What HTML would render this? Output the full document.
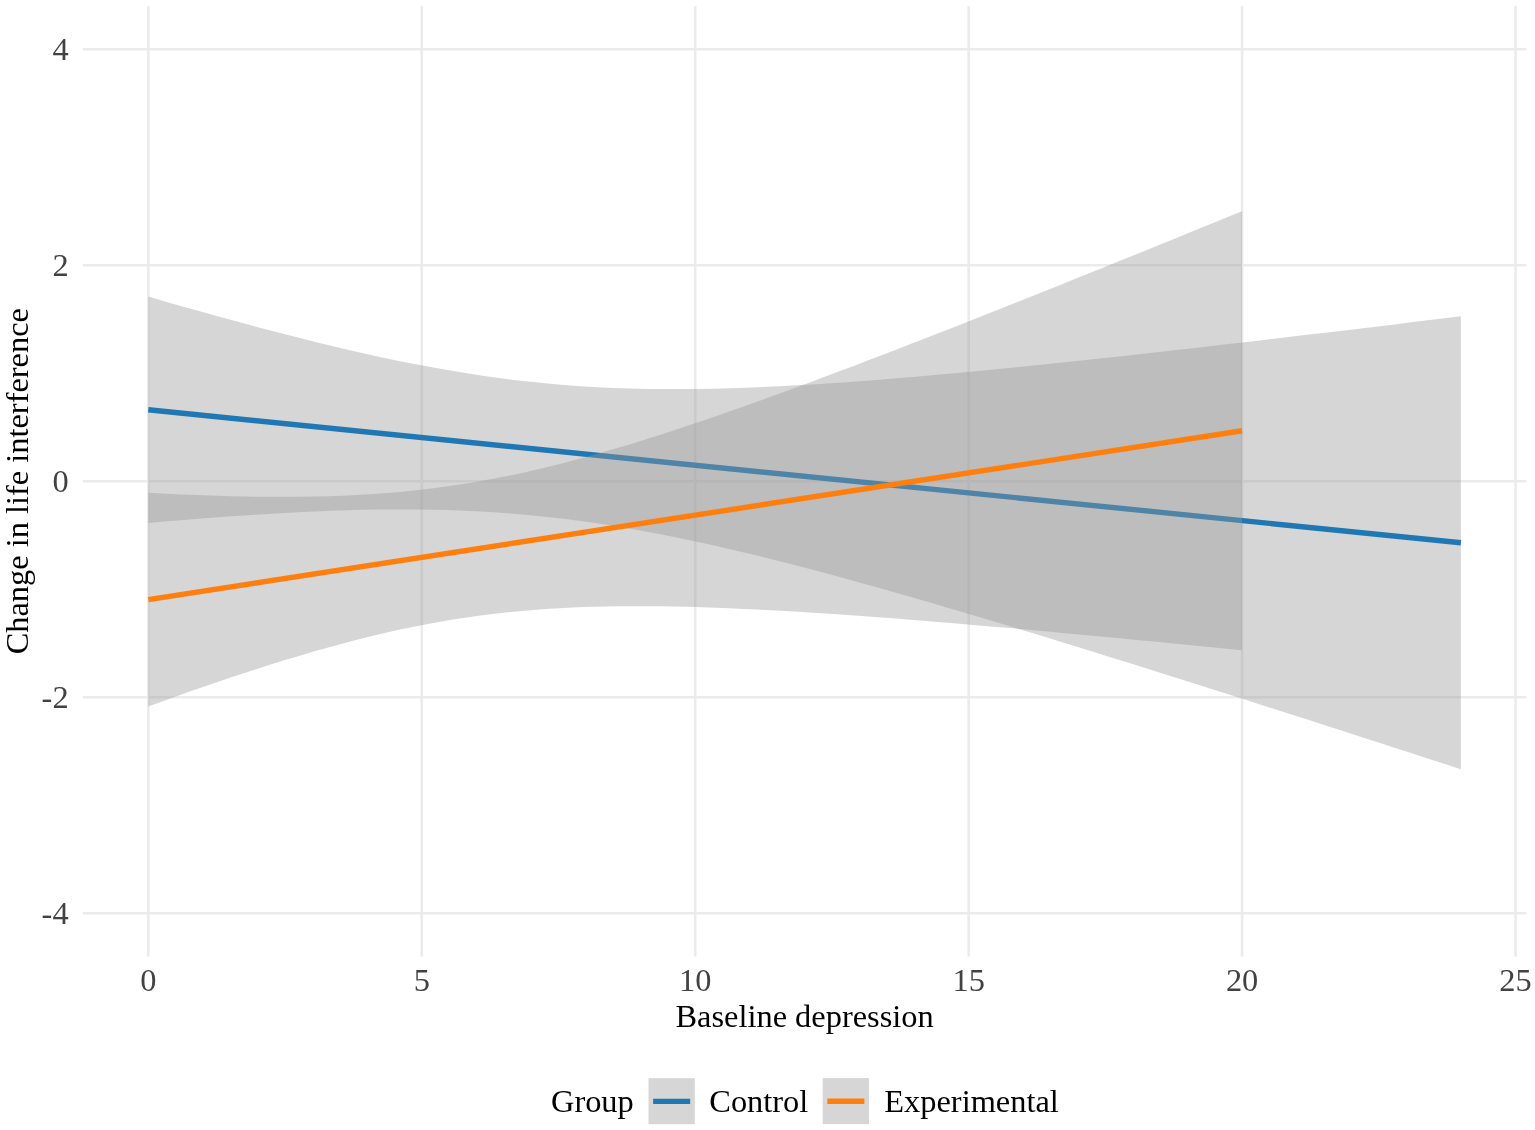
<!DOCTYPE html>
<html><head><meta charset="utf-8"><title>Change in life interference by baseline depression</title>
<style>
html,body{margin:0;padding:0;background:#fff;}
body{width:1535px;height:1130px;overflow:hidden;}
svg{display:block;}
svg text{font-family:"Liberation Serif","Times New Roman",serif;font-size:32.4px;}
</style></head>
<body>
<svg width="1535" height="1130" viewBox="0 0 1535 1130">
<rect x="0" y="0" width="1535" height="1130" fill="#fff"/>
<line x1="82.67" y1="49.20" x2="1526.49" y2="49.20" stroke="#EBEBEB" stroke-width="2.6"/>
<line x1="82.67" y1="265.20" x2="1526.49" y2="265.20" stroke="#EBEBEB" stroke-width="2.6"/>
<line x1="82.67" y1="481.20" x2="1526.49" y2="481.20" stroke="#EBEBEB" stroke-width="2.6"/>
<line x1="82.67" y1="697.20" x2="1526.49" y2="697.20" stroke="#EBEBEB" stroke-width="2.6"/>
<line x1="82.67" y1="913.20" x2="1526.49" y2="913.20" stroke="#EBEBEB" stroke-width="2.6"/>
<line x1="148.30" y1="6.00" x2="148.30" y2="956.40" stroke="#EBEBEB" stroke-width="2.6"/>
<line x1="421.75" y1="6.00" x2="421.75" y2="956.40" stroke="#EBEBEB" stroke-width="2.6"/>
<line x1="695.20" y1="6.00" x2="695.20" y2="956.40" stroke="#EBEBEB" stroke-width="2.6"/>
<line x1="968.65" y1="6.00" x2="968.65" y2="956.40" stroke="#EBEBEB" stroke-width="2.6"/>
<line x1="1242.10" y1="6.00" x2="1242.10" y2="956.40" stroke="#EBEBEB" stroke-width="2.6"/>
<line x1="1515.55" y1="6.00" x2="1515.55" y2="956.40" stroke="#EBEBEB" stroke-width="2.6"/>
<path d="M148.30,296.60 L164.91,301.41 L181.53,306.17 L198.14,310.87 L214.76,315.51 L231.37,320.09 L247.99,324.59 L264.60,329.02 L281.22,333.36 L297.83,337.61 L314.45,341.76 L331.06,345.79 L347.68,349.71 L364.29,353.49 L380.91,357.14 L397.52,360.63 L414.13,363.96 L430.75,367.11 L447.36,370.07 L463.98,372.84 L480.59,375.41 L497.21,377.75 L513.82,379.88 L530.44,381.78 L547.05,383.46 L563.67,384.91 L580.28,386.13 L596.90,387.13 L613.51,387.92 L630.13,388.51 L646.74,388.89 L663.36,389.10 L679.97,389.12 L696.58,388.99 L713.20,388.70 L729.81,388.27 L746.43,387.71 L763.04,387.03 L779.66,386.25 L796.27,385.36 L812.89,384.38 L829.50,383.31 L846.12,382.17 L862.73,380.95 L879.35,379.67 L895.96,378.33 L912.58,376.94 L929.19,375.49 L945.80,374.00 L962.42,372.46 L979.03,370.89 L995.65,369.28 L1012.26,367.64 L1028.88,365.96 L1045.49,364.26 L1062.11,362.53 L1078.72,360.77 L1095.34,359.00 L1111.95,357.20 L1128.57,355.38 L1145.18,353.54 L1161.80,351.68 L1178.41,349.81 L1195.03,347.93 L1211.64,346.03 L1228.25,344.11 L1244.87,342.19 L1261.48,340.25 L1278.10,338.30 L1294.71,336.34 L1311.33,334.37 L1327.94,332.39 L1344.56,330.40 L1361.17,328.40 L1377.79,326.40 L1394.40,324.38 L1411.02,322.36 L1427.63,320.34 L1444.25,318.31 L1460.86,316.27 L1460.86,769.25 L1444.25,763.85 L1427.63,758.45 L1411.02,753.06 L1394.40,747.67 L1377.79,742.29 L1361.17,736.92 L1344.56,731.56 L1327.94,726.21 L1311.33,720.86 L1294.71,715.52 L1278.10,710.20 L1261.48,704.88 L1244.87,699.58 L1228.25,694.28 L1211.64,689.00 L1195.03,683.74 L1178.41,678.48 L1161.80,673.25 L1145.18,668.02 L1128.57,662.82 L1111.95,657.64 L1095.34,652.47 L1078.72,647.33 L1062.11,642.21 L1045.49,637.11 L1028.88,632.04 L1012.26,627.00 L995.65,621.99 L979.03,617.01 L962.42,612.07 L945.80,607.17 L929.19,602.32 L912.58,597.50 L895.96,592.74 L879.35,588.04 L862.73,583.39 L846.12,578.81 L829.50,574.30 L812.89,569.87 L796.27,565.52 L779.66,561.26 L763.04,557.11 L746.43,553.07 L729.81,549.14 L713.20,545.35 L696.58,541.69 L679.97,538.19 L663.36,534.85 L646.74,531.69 L630.13,528.71 L613.51,525.93 L596.90,523.35 L580.28,520.99 L563.67,518.84 L547.05,516.93 L530.44,515.24 L513.82,513.77 L497.21,512.53 L480.59,511.52 L463.98,510.71 L447.36,510.12 L430.75,509.72 L414.13,509.50 L397.52,509.46 L380.91,509.59 L364.29,509.87 L347.68,510.29 L331.06,510.84 L314.45,511.51 L297.83,512.29 L281.22,513.17 L264.60,514.14 L247.99,515.21 L231.37,516.34 L214.76,517.55 L198.14,518.83 L181.53,520.17 L164.91,521.56 L148.30,523.00 Z" fill="#999999" fill-opacity="0.4"/>
<line x1="148.30" y1="409.80" x2="1460.86" y2="542.76" stroke="#1F77B4" stroke-width="5.4"/>
<path d="M148.30,492.80 L162.15,493.52 L175.99,494.19 L189.84,494.79 L203.68,495.33 L217.53,495.80 L231.37,496.20 L245.22,496.51 L259.06,496.73 L272.91,496.85 L286.76,496.87 L300.60,496.78 L314.45,496.56 L328.29,496.21 L342.14,495.72 L355.98,495.07 L369.83,494.27 L383.67,493.29 L397.52,492.14 L411.37,490.80 L425.21,489.26 L439.06,487.53 L452.90,485.59 L466.75,483.45 L480.59,481.11 L494.44,478.56 L508.28,475.81 L522.13,472.88 L535.98,469.75 L549.82,466.45 L563.67,462.97 L577.51,459.34 L591.36,455.55 L605.20,451.62 L619.05,447.56 L632.89,443.38 L646.74,439.08 L660.59,434.68 L674.43,430.18 L688.28,425.59 L702.12,420.92 L715.97,416.17 L729.81,411.35 L743.66,406.47 L757.51,401.53 L771.35,396.53 L785.20,391.49 L799.04,386.39 L812.89,381.26 L826.73,376.08 L840.58,370.87 L854.42,365.63 L868.27,360.35 L882.12,355.04 L895.96,349.71 L909.81,344.35 L923.65,338.97 L937.50,333.56 L951.34,328.14 L965.19,322.70 L979.03,317.23 L992.88,311.76 L1006.73,306.26 L1020.57,300.75 L1034.42,295.23 L1048.26,289.69 L1062.11,284.15 L1075.95,278.59 L1089.80,273.01 L1103.64,267.43 L1117.49,261.84 L1131.34,256.24 L1145.18,250.63 L1159.03,245.02 L1172.87,239.39 L1186.72,233.76 L1200.56,228.12 L1214.41,222.47 L1228.25,216.82 L1242.10,211.16 L1242.10,650.28 L1228.25,648.89 L1214.41,647.52 L1200.56,646.15 L1186.72,644.78 L1172.87,643.42 L1159.03,642.08 L1145.18,640.73 L1131.34,639.40 L1117.49,638.08 L1103.64,636.76 L1089.80,635.46 L1075.95,634.16 L1062.11,632.88 L1048.26,631.60 L1034.42,630.34 L1020.57,629.09 L1006.73,627.86 L992.88,626.64 L979.03,625.44 L965.19,624.25 L951.34,623.09 L937.50,621.94 L923.65,620.81 L909.81,619.70 L895.96,618.62 L882.12,617.56 L868.27,616.53 L854.42,615.53 L840.58,614.56 L826.73,613.62 L812.89,612.72 L799.04,611.86 L785.20,611.04 L771.35,610.27 L757.51,609.55 L743.66,608.89 L729.81,608.28 L715.97,607.74 L702.12,607.27 L688.28,606.87 L674.43,606.56 L660.59,606.33 L646.74,606.20 L632.89,606.18 L619.05,606.27 L605.20,606.49 L591.36,606.84 L577.51,607.32 L563.67,607.96 L549.82,608.77 L535.98,609.74 L522.13,610.89 L508.28,612.22 L494.44,613.75 L480.59,615.48 L466.75,617.41 L452.90,619.55 L439.06,621.89 L425.21,624.43 L411.37,627.17 L397.52,630.10 L383.67,633.22 L369.83,636.52 L355.98,639.99 L342.14,643.63 L328.29,647.41 L314.45,651.33 L300.60,655.39 L286.76,659.57 L272.91,663.87 L259.06,668.27 L245.22,672.76 L231.37,677.35 L217.53,682.02 L203.68,686.77 L189.84,691.58 L175.99,696.46 L162.15,701.40 L148.30,706.40 Z" fill="#999999" fill-opacity="0.4"/>
<line x1="148.30" y1="599.60" x2="1242.10" y2="430.72" stroke="#FF7F0E" stroke-width="5.4"/>
<text x="68.6" y="59.90" text-anchor="end" fill="#424242">4</text>
<text x="68.6" y="275.90" text-anchor="end" fill="#424242">2</text>
<text x="68.6" y="491.90" text-anchor="end" fill="#424242">0</text>
<text x="68.6" y="707.90" text-anchor="end" fill="#424242">-2</text>
<text x="68.6" y="923.90" text-anchor="end" fill="#424242">-4</text>
<text x="148.30" y="990.6" text-anchor="middle" fill="#424242">0</text>
<text x="421.75" y="990.6" text-anchor="middle" fill="#424242">5</text>
<text x="695.20" y="990.6" text-anchor="middle" fill="#424242">10</text>
<text x="968.65" y="990.6" text-anchor="middle" fill="#424242">15</text>
<text x="1242.10" y="990.6" text-anchor="middle" fill="#424242">20</text>
<text x="1515.55" y="990.6" text-anchor="middle" fill="#424242">25</text>
<text x="804.58" y="1026.8" text-anchor="middle" fill="#000">Baseline depression</text>
<text transform="translate(28.4,481.20) rotate(-90)" x="0" y="0" text-anchor="middle" fill="#000">Change in life interference</text>
<text x="551" y="1112.3" fill="#000">Group</text>
<rect x="648.5" y="1078.2" width="46.3" height="46" fill="#999999" fill-opacity="0.4"/><line x1="653.13" y1="1101.40" x2="690.17" y2="1101.40" stroke="#1F77B4" stroke-width="5.4"/>
<text x="709.3" y="1112.3" fill="#000">Control</text>
<rect x="822.7" y="1078.1" width="46.3" height="46" fill="#999999" fill-opacity="0.4"/><line x1="827.33" y1="1101.30" x2="864.37" y2="1101.30" stroke="#FF7F0E" stroke-width="5.4"/>
<text x="884.3" y="1112.3" fill="#000">Experimental</text>
</svg>
</body></html>
